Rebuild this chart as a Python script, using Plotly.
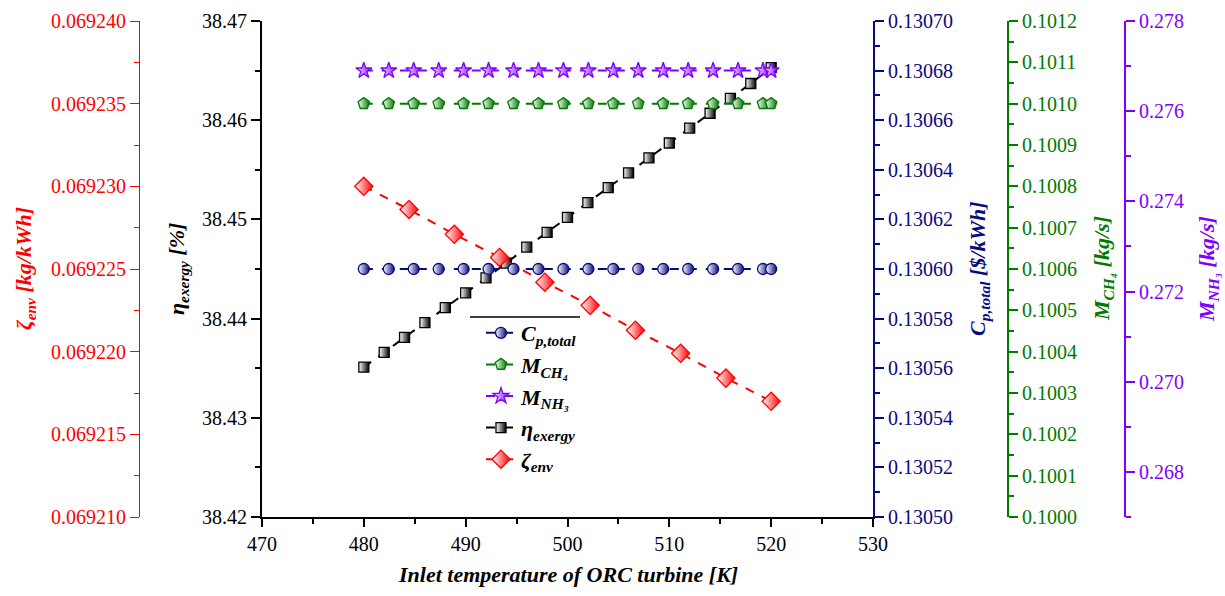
import plotly.graph_objects as go

# ---------------- data ----------------
temp_eta = [480, 482, 484, 486, 488, 490, 492, 494, 496, 498, 500,
            502, 504, 506, 508, 510, 512, 514, 516, 518, 520]
eta_exergy = [38.4351, 38.4366, 38.4381, 38.4396, 38.4411, 38.4426, 38.4441,
              38.4456, 38.4472, 38.4487, 38.4502, 38.4517, 38.4532, 38.4547,
              38.4562, 38.4577, 38.4592, 38.4607, 38.4622, 38.4637, 38.4653]

temp_env = [480.00, 484.44, 488.89, 493.33, 497.78, 502.22, 506.67, 511.11, 515.56, 520.00]
zeta_env = [0.0692300, 0.0692286, 0.0692271, 0.0692257, 0.0692242,
            0.0692228, 0.0692213, 0.0692199, 0.0692184, 0.0692170]

temp_flat = [480.00, 482.45, 484.90, 487.35, 489.80, 492.25, 494.70, 497.15, 499.60,
             502.05, 504.50, 506.95, 509.40, 511.85, 514.30, 516.75, 519.20, 520.00]
cp_total = [0.13060, 0.13060, 0.13060, 0.13060, 0.13060, 0.13060, 0.13060, 0.13060, 0.13060,
            0.13060, 0.13060, 0.13060, 0.13060, 0.13060, 0.13060, 0.13060, 0.13060, 0.13060]
m_ch4 = [0.10100, 0.10100, 0.10100, 0.10100, 0.10100, 0.10100, 0.10100, 0.10100, 0.10100,
         0.10100, 0.10100, 0.10100, 0.10100, 0.10100, 0.10100, 0.10100, 0.10100, 0.10100]
m_nh3 = [0.27690, 0.27690, 0.27690, 0.27690, 0.27690, 0.27690, 0.27690, 0.27690, 0.27690,
         0.27690, 0.27690, 0.27690, 0.27690, 0.27690, 0.27690, 0.27690, 0.27690, 0.27690]

# ---------------- style ----------------
W, H = 1225, 596
FONT = "Liberation Serif, Times New Roman, serif"
BLACK = "#000000"
RED = "#ff0000"
NAVY = "#0a0a80"
GREEN = "#007a00"
PURPLE = "#8000ff"

# plot box in pixels
X0, X1, YT, YB = 262, 873, 21, 517


def px(x):
    return x / W


def py(y):
    return 1 - y / H


def half_marker(symbol, color, size):
    # coloured on the left, white on the right
    return dict(symbol=symbol, size=size, color="white",
                line=dict(color=color, width=1.3),
                gradient=dict(type="horizontal", color=color))


fig = go.Figure()

fig.add_trace(go.Scatter(
    x=temp_flat, y=cp_total, yaxis="y3", mode="lines+markers",
    name="<b><i>C<sub>p,total</sub></i></b>",
    line=dict(color=NAVY, width=2, dash="dash"),
    marker=half_marker("circle", NAVY, 11)))
fig.add_trace(go.Scatter(
    x=temp_flat, y=m_ch4, yaxis="y4", mode="lines+markers",
    name="<b><i>M<sub>CH₄</sub></i></b>",
    line=dict(color=GREEN, width=2, dash="dash"),
    marker=half_marker("pentagon", GREEN, 12)))
fig.add_trace(go.Scatter(
    x=temp_flat, y=m_nh3, yaxis="y5", mode="lines+markers",
    name="<b><i>M<sub>NH₃</sub></i></b>",
    line=dict(color=PURPLE, width=2, dash="dash"),
    marker=half_marker("star", PURPLE, 12)))
fig.add_trace(go.Scatter(
    x=temp_eta, y=eta_exergy, yaxis="y", mode="lines+markers",
    name="<b><i>η<sub>exergy</sub></i></b>",
    line=dict(color=BLACK, width=2, dash="dash"),
    marker=half_marker("square", BLACK, 10)))
fig.add_trace(go.Scatter(
    x=temp_env, y=zeta_env, yaxis="y2", mode="lines+markers",
    name="<b><i>ζ<sub>env</sub></i></b>",
    line=dict(color=RED, width=2, dash="dash"),
    marker=half_marker("diamond", RED, 14)))


def yaxis_style(color, rng, dtick, fmt, minor_dtick, line_w=2, tick0=None):
    d = dict(range=rng, dtick=dtick, tickformat=fmt, showgrid=False, zeroline=False,
             showline=True, linecolor=color, linewidth=line_w,
             ticks="outside", ticklen=9, tickwidth=line_w, tickcolor=color,
             tickfont=dict(family=FONT, size=20, color=color),
             minor=dict(dtick=minor_dtick, ticks="outside", ticklen=5,
                        tickwidth=line_w, tickcolor=color, showgrid=False),
             automargin=False, domain=[py(YB), py(YT)])
    if tick0 is not None:
        d["tick0"] = tick0
    return d


fig.update_layout(
    width=W, height=H,
    margin=dict(l=0, r=0, t=0, b=0),
    paper_bgcolor="white", plot_bgcolor="white",
    font=dict(family=FONT, size=20, color=BLACK),
    showlegend=True,
    xaxis=dict(range=[470, 530], dtick=10, domain=[px(X0), px(X1)],
               showgrid=False, zeroline=False, showline=True,
               linecolor=BLACK, linewidth=2, ticks="outside", ticklen=8,
               tickwidth=2, tickcolor=BLACK,
               minor=dict(dtick=5, ticks="outside", ticklen=5, tickwidth=2,
                          tickcolor=BLACK),
               tickfont=dict(family=FONT, size=20, color=BLACK),
               automargin=False, anchor="y"),
    yaxis=yaxis_style(BLACK, [38.42, 38.47], 0.01, ".2f", 0.005),
    yaxis2=yaxis_style(RED, [0.06921, 0.06924], 0.000005, ".6f", 0.0000025, line_w=1.2),
    yaxis3=yaxis_style(NAVY, [0.1305, 0.1307], 0.00002, ".5f", 0.00001),
    yaxis4=yaxis_style(GREEN, [0.1000, 0.1012], 0.0001, ".4f", 0.00005),
    yaxis5=yaxis_style(PURPLE, [0.267, 0.278], 0.002, ".3f", 0.001, tick0=0.268),
    legend=dict(x=px(481), y=py(312), xanchor="left", yanchor="top",
                bgcolor="rgba(0,0,0,0)", borderwidth=0,
                font=dict(family=FONT, size=22, color=BLACK),
                itemwidth=30, tracegroupgap=0),
)

fig.layout.yaxis.update(anchor="x", side="left")
fig.layout.yaxis2.update(overlaying="y", side="left", anchor="free", position=px(139))
fig.layout.yaxis3.update(overlaying="y", side="right", anchor="x")
fig.layout.yaxis4.update(overlaying="y", side="right", anchor="free", position=px(1008))
fig.layout.yaxis5.update(overlaying="y", side="right", anchor="free", position=px(1125))

# rule above the legend
fig.add_shape(type="line", xref="paper", yref="paper",
              x0=px(470), x1=px(580), y0=py(317), y1=py(317),
              line=dict(color=BLACK, width=1.5))

# axis titles
ymid = py((YT + YB) / 2)
titles = [
    (25, "<b><i>ζ<sub>env</sub> [kg/kWh]</i></b>", RED),
    (178, "<b><i>η<sub>exergy</sub> [%]</i></b>", BLACK),
    (979, "<b><i>C<sub>p,total</sub> [$/kWh]</i></b>", NAVY),
    (1103, "<b><i>M<sub>CH₄</sub> [kg/s]</i></b>", GREEN),
    (1208, "<b><i>M<sub>NH₃</sub> [kg/s]</i></b>", PURPLE),
]
for xp, txt, col in titles:
    fig.add_annotation(x=px(xp), y=ymid, xref="paper", yref="paper",
                       text=txt, textangle=-90, showarrow=False,
                       xanchor="center", yanchor="middle",
                       font=dict(family=FONT, size=22, color=col))

fig.add_annotation(x=px((X0 + X1) / 2), y=py(574), xref="paper", yref="paper",
                   text="<b><i>Inlet temperature of ORC turbine [K]</i></b>",
                   showarrow=False, xanchor="center", yanchor="middle",
                   font=dict(family=FONT, size=22, color=BLACK))

fig.write_html("out.html")
